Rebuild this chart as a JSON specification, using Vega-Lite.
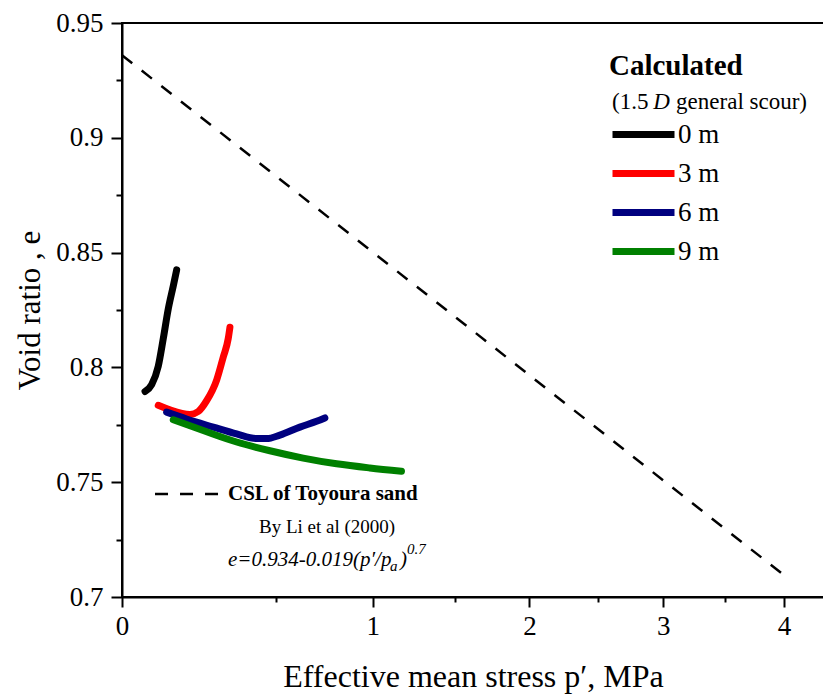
{
  "$schema": "https://vega.github.io/schema/vega-lite/v6.json",
  "width": 702,
  "height": 574,
  "autosize": {"type": "none"},
  "padding": {"left": 122, "top": 23, "right": 0, "bottom": 100},
  "background": "white",
  "config": {
    "view": {"stroke": "black", "strokeWidth": 2},
    "font": "Liberation Serif, serif",
    "text": {"font": "Liberation Serif, serif"},
    "axis": {
      "domainColor": "black", "domainWidth": 2, "tickColor": "black", "tickWidth": 2,
      "grid": false, "labelFont": "Liberation Serif, serif", "labelFontSize": 27, "labelColor": "black",
      "titleFont": "Liberation Serif, serif", "titleFontWeight": "normal", "titleColor": "black"
    }
  },
  "datasets": {
    "csl": [{"p": 0, "e": 0.936}, {"p": 4, "e": 0.7095}],
    "curves": [
      {"series": "0 m", "i": 1, "p": 0.033, "e": 0.7895},
      {"series": "0 m", "i": 2, "p": 0.0474, "e": 0.7925},
      {"series": "0 m", "i": 3, "p": 0.0631, "e": 0.8005},
      {"series": "0 m", "i": 4, "p": 0.0759, "e": 0.8125},
      {"series": "0 m", "i": 5, "p": 0.0894, "e": 0.8255},
      {"series": "0 m", "i": 6, "p": 0.1035, "e": 0.8355},
      {"series": "0 m", "i": 7, "p": 0.1135, "e": 0.8425},
      {"series": "3 m", "i": 1, "p": 0.0631, "e": 0.7835},
      {"series": "3 m", "i": 2, "p": 0.0941, "e": 0.7815},
      {"series": "3 m", "i": 3, "p": 0.1548, "e": 0.7795},
      {"series": "3 m", "i": 4, "p": 0.1825, "e": 0.7808},
      {"series": "3 m", "i": 5, "p": 0.2119, "e": 0.7855},
      {"series": "3 m", "i": 6, "p": 0.2485, "e": 0.7945},
      {"series": "3 m", "i": 7, "p": 0.2736, "e": 0.8045},
      {"series": "3 m", "i": 8, "p": 0.293, "e": 0.8125},
      {"series": "3 m", "i": 9, "p": 0.2998, "e": 0.8175},
      {"series": "6 m", "i": 1, "p": 0.0849, "e": 0.7805},
      {"series": "6 m", "i": 2, "p": 0.1441, "e": 0.7775},
      {"series": "6 m", "i": 3, "p": 0.2358, "e": 0.774},
      {"series": "6 m", "i": 4, "p": 0.3267, "e": 0.771},
      {"series": "6 m", "i": 5, "p": 0.411, "e": 0.769},
      {"series": "6 m", "i": 6, "p": 0.4553, "e": 0.769},
      {"series": "6 m", "i": 7, "p": 0.5162, "e": 0.7705},
      {"series": "6 m", "i": 8, "p": 0.6121, "e": 0.774},
      {"series": "6 m", "i": 9, "p": 0.6957, "e": 0.7765},
      {"series": "6 m", "i": 10, "p": 0.7384, "e": 0.778},
      {"series": "9 m", "i": 1, "p": 0.1035, "e": 0.7772},
      {"series": "9 m", "i": 2, "p": 0.1998, "e": 0.7725},
      {"series": "9 m", "i": 3, "p": 0.3267, "e": 0.7675},
      {"series": "9 m", "i": 4, "p": 0.4702, "e": 0.7637},
      {"series": "9 m", "i": 5, "p": 0.6283, "e": 0.7605},
      {"series": "9 m", "i": 6, "p": 0.8, "e": 0.758},
      {"series": "9 m", "i": 7, "p": 0.983, "e": 0.7562},
      {"series": "9 m", "i": 8, "p": 1.167, "e": 0.7548}
    ],
    "sample": [{"p": 0.0552, "e": 0.7449}, {"p": 0.2612, "e": 0.7449}],
    "boldNotes": [{"p": 0.2921, "e": 0.7449, "text": "CSL of Toyoura sand"}],
    "plainNotes": [
      {"p": 0.7498, "e": 0.7305, "text": "By Li et al (2000)"}
    ],
    "subNotes": [
      {"p": 2.6036, "e": 0.9156, "text": "(1.5"},
      {"p": 3.1025, "e": 0.9156, "text": "general scour)"}
    ],
    "subItalic": [{"p": 2.9204, "e": 0.9156, "text": "D"}],
    "formula": [
      {"p": 0.2921, "e": 0.7161, "text": "e=0.934-0.019(p′/p"},
      {"p": 1.1585, "e": 0.7161, "text": ")"}
    ],
    "formulaSmall": [
      {"p": 1.0994, "e": 0.7135, "text": "a"},
      {"p": 1.2005, "e": 0.7209, "text": "0.7"}
    ]
  },
  "encoding": {
    "x": {
      "field": "p", "type": "quantitative",
      "scale": {"type": "pow", "exponent": 0.7, "domain": [0, 4.35], "nice": false, "zero": false},
      "axis": {
        "title": "Effective mean stress p′, MPa", "titleFontSize": 32,
        "values": [0, 0.5, 1, 1.5, 2, 2.5, 3, 3.5, 4],
        "labelExpr": "datum.value % 1 === 0 ? format(datum.value, 'd') : ''",
        "tickSize": {"condition": {"test": "datum.value % 1 !== 0", "value": 5}, "value": 10},
        "labelPadding": 6, "titlePadding": 22, "labelFlush": false, "labelOverlap": false
      }
    },
    "y": {
      "field": "e", "type": "quantitative",
      "scale": {"domain": [0.7, 0.95], "nice": false, "zero": false},
      "axis": {
        "title": "Void ratio , e", "titleFontSize": 31,
        "values": [0.7, 0.725, 0.75, 0.775, 0.8, 0.825, 0.85, 0.875, 0.9, 0.925, 0.95],
        "labelExpr": "abs(datum.value * 20 - round(datum.value * 20)) < 0.000001 ? format(datum.value, '.2~f') : ''",
        "tickSize": {"condition": {"test": "abs(datum.value * 20 - round(datum.value * 20)) > 0.000001", "value": 6}, "value": 11},
        "labelPadding": 8, "titlePadding": 9, "labelFlush": false, "labelOverlap": false
      }
    }
  },
  "layer": [
    {
      "data": {"name": "csl"},
      "mark": {"type": "line", "color": "black", "strokeWidth": 2.5, "strokeDash": [13, 12]},
      "encoding": {}
    },
    {
      "data": {"name": "curves"},
      "mark": {"type": "line", "strokeWidth": 7, "strokeCap": "round", "strokeJoin": "round", "interpolate": "monotone"},
      "encoding": {
        "order": {"field": "i", "type": "quantitative"},
        "color": {
          "field": "series", "type": "nominal",
          "scale": {"domain": ["0 m", "3 m", "6 m", "9 m"], "range": ["#000000", "#ff0000", "#00007f", "#008000"]},
          "legend": {
            "orient": "none", "legendX": 487, "legendY": 29, "padding": 0,
            "title": "Calculated", "titleFont": "Liberation Serif, serif", "titleFontSize": 29, "titleFontWeight": "bold",
            "titleColor": "black", "titlePadding": 40, "titleAnchor": "start",
            "labelFont": "Liberation Serif, serif", "labelFontSize": 27, "labelColor": "black",
            "symbolType": "stroke", "symbolSize": 3844, "symbolStrokeWidth": 7,
            "rowPadding": 11, "clipHeight": 27, "labelOffset": 0
          }
        }
      }
    },
    {
      "data": {"name": "sample"},
      "mark": {"type": "line", "color": "black", "strokeWidth": 2.5, "strokeDash": [13, 12]},
      "encoding": {}
    },
    {
      "data": {"name": "boldNotes"},
      "mark": {"type": "text", "align": "left", "baseline": "middle", "fontSize": 21, "fontWeight": "bold", "color": "black", "font": "Liberation Serif, serif"},
      "encoding": {"text": {"field": "text"}}
    },
    {
      "data": {"name": "plainNotes"},
      "mark": {"type": "text", "align": "center", "baseline": "middle", "fontSize": 19, "color": "black", "font": "Liberation Serif, serif"},
      "encoding": {"text": {"field": "text"}}
    },
    {
      "data": {"name": "subNotes"},
      "mark": {"type": "text", "align": "left", "baseline": "middle", "fontSize": 23, "color": "black", "font": "Liberation Serif, serif"},
      "encoding": {"text": {"field": "text"}}
    },
    {
      "data": {"name": "subItalic"},
      "mark": {"type": "text", "align": "left", "baseline": "middle", "fontSize": 23, "fontStyle": "italic", "color": "black", "font": "Liberation Serif, serif"},
      "encoding": {"text": {"field": "text"}}
    },
    {
      "data": {"name": "formula"},
      "mark": {"type": "text", "align": "left", "baseline": "middle", "fontSize": 21, "fontStyle": "italic", "color": "black", "font": "Liberation Serif, serif"},
      "encoding": {"text": {"field": "text"}}
    },
    {
      "data": {"name": "formulaSmall"},
      "mark": {"type": "text", "align": "left", "baseline": "middle", "fontSize": 15, "fontStyle": "italic", "color": "black", "font": "Liberation Serif, serif"},
      "encoding": {"text": {"field": "text"}}
    }
  ]
}
